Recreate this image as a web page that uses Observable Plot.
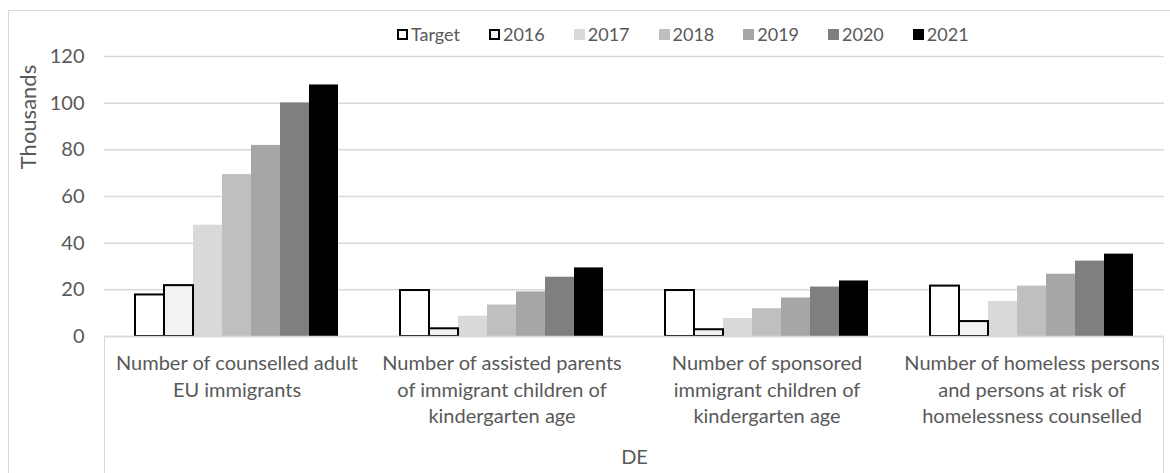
<!DOCTYPE html>
<html>
<head>
<meta charset="utf-8">
<script src="https://cdn.jsdelivr.net/npm/d3@7"></script>
<script src="https://cdn.jsdelivr.net/npm/@observablehq/plot@0.6"></script>
<style>
  body { margin: 0; background: #fff; }
  #chart { position: relative; width: 1170px; height: 473px; overflow: hidden; font-family: Lato, "Liberation Sans", sans-serif; color: #595959; }
  #frame { position: absolute; left: 8px; top: 10px; width: 1300px; height: 600px; border: 1px solid #d9d9d9; box-sizing: border-box; }
  #plot { position: absolute; left: 0; top: 0; }
  #axisbox { position: absolute; left: 104px; top: 336px; width: 1060px; height: 200px; border-left: 1.5px solid #d9d9d9; border-right: 1.5px solid #d9d9d9; box-sizing: border-box; }
  #legend { position: absolute; left: 397px; top: 23px; display: flex; align-items: center; font-size: 18px; white-space: nowrap; }
  #legend .item { display: flex; align-items: center; margin-right: 29px; }
  #legend .sw { width: 11px; height: 11px; box-sizing: border-box; margin-right: 3px; }
  #ytitle { position: absolute; left: 27px; top: 117px; transform: translate(-50%, -50%) rotate(-90deg); font-size: 22px; white-space: nowrap; }
</style>
</head>
<body>
<div id="chart">
  <div id="frame"></div>
  <div id="axisbox"></div>
  <div id="plot"></div>
  <div id="legend"></div>
  <div id="ytitle">Thousands</div>
</div>
<script>
const categories = [
  "Number of counselled adult EU immigrants",
  "Number of assisted parents of immigrant children of kindergarten age",
  "Number of sponsored immigrant children of kindergarten age",
  "Number of homeless persons and persons at risk of homelessness counselled"
];
const categoryLabels = [
  "Number of counselled adult\nEU immigrants",
  "Number of assisted parents\nof immigrant children of\nkindergarten age",
  "Number of sponsored\nimmigrant children of\nkindergarten age",
  "Number of homeless persons\nand persons at risk of\nhomelessness counselled"
];
const series = ["Target", "2016", "2017", "2018", "2019", "2020", "2021"];
const valuesTarget = [17.8, 19.7, 19.7, 21.6];
const values2016   = [21.8, 3.3, 2.9, 6.4];
const values2017   = [47.7, 8.7, 7.7, 15.0];
const values2018   = [69.4, 13.5, 11.9, 21.6];
const values2019   = [81.9, 19.1, 16.5, 26.7];
const values2020   = [100.1, 25.4, 21.2, 32.3];
const values2021   = [107.8, 29.4, 23.8, 35.3];
const yTicks = [0, 20, 40, 60, 80, 100, 120];
const seriesColors = ["#ffffff", "#f2f2f2", "#d9d9d9", "#bfbfbf", "#a6a6a6", "#7f7f7f", "#000000"];
const outlinedSeries = ["Target", "2016"];
const groupLabel = "DE";
const yLabel = "Thousands";

const seriesValues = [valuesTarget, values2016, values2017, values2018, values2019, values2020, values2021];
const table = [];
categories.forEach((c, i) => {
  series.forEach((s, j) => {
    table.push({category: c, series: s, value: seriesValues[j][i]});
  });
});

const font = 'Lato, "Liberation Sans", sans-serif';

const chart = Plot.plot({
  width: 1170,
  height: 473,
  marginLeft: 104,
  marginRight: 6,
  marginTop: 56,
  marginBottom: 137,
  style: {fontFamily: font, fontSize: "18px", color: "#595959", background: "transparent", overflow: "visible"},
  fx: {domain: categories, padding: 0},
  x: {domain: series, padding: 0, insetLeft: 31, insetRight: 31, axis: null},
  y: {domain: [0, 120]},
  color: {domain: series, range: seriesColors},
  marks: [
    Plot.gridY(yTicks, {stroke: "#d9d9d9", strokeOpacity: 1, strokeWidth: 1.5}),
    Plot.barY(table, {fx: "category", x: "series", y: "value", fill: "series"}),
    Plot.barY(table.filter(d => outlinedSeries.includes(d.series)), {fx: "category", x: "series", y: "value", fill: "none", stroke: "#000", strokeWidth: 2}),
    Plot.ruleY([0], {stroke: "#d9d9d9", strokeWidth: 1.5}),
    Plot.axisY({ticks: yTicks, tickSize: 0, tickPadding: 20, fontSize: 20, fill: "#595959", label: null}),
    Plot.axisFx({
      anchor: "bottom",
      tickSize: 0,
      tickPadding: 15,
      fontSize: 20,
      lineHeight: 1.32,
      fill: "#595959",
      tickFormat: d => categoryLabels[categories.indexOf(d)],
      label: groupLabel,
      labelAnchor: "center",
      labelOffset: 127
    })
  ]
});
document.getElementById("plot").appendChild(chart);
document.getElementById("ytitle").textContent = yLabel;

const legend = document.getElementById("legend");
series.forEach((s, j) => {
  const item = document.createElement("div");
  item.className = "item";
  const sw = document.createElement("span");
  sw.className = "sw";
  sw.style.background = seriesColors[j];
  if (outlinedSeries.includes(s)) sw.style.border = "2px solid #000";
  const t = document.createElement("span");
  t.textContent = s;
  item.appendChild(sw);
  item.appendChild(t);
  legend.appendChild(item);
});
</script>
</body>
</html>
